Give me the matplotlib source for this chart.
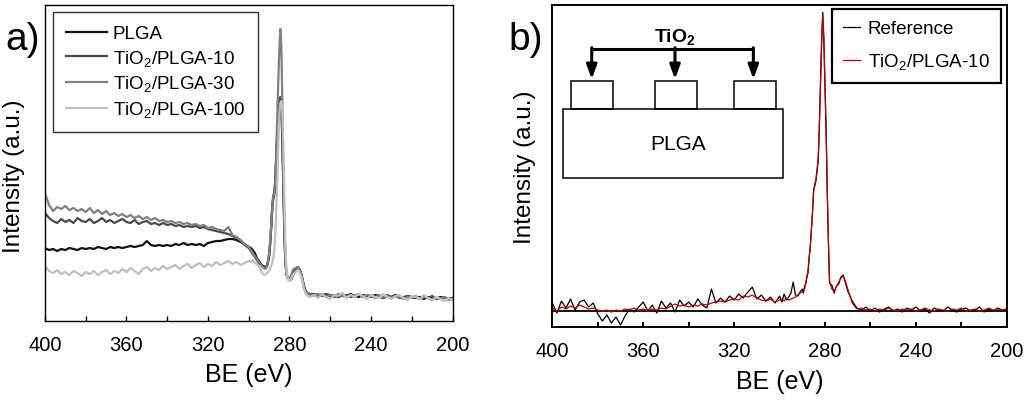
import numpy as np
import matplotlib
matplotlib.use('Agg')
import matplotlib.pyplot as plt
from matplotlib.patches import Rectangle
from matplotlib.ticker import MultipleLocator

plt.rcParams['font.family'] = ['Liberation Sans', 'DejaVu Sans']
plt.rcParams['mathtext.default'] = 'regular'

# binding energy grid the curves were read on (eV), finer around the C1s peak
be = np.concatenate([np.arange(400, 301, -2), np.arange(300, 290, -1),
                     np.arange(290, 277.9, -0.5), np.arange(277, 269.9, -1),
                     np.arange(268, 199.9, -2)])

# ---- panel a) intensities (a.u.)
plga = [73, 71, 72, 70, 72, 71, 73, 72, 71, 73, 72, 73, 72, 74, 73, 72, 74, 73, 74, 73,
        74, 75, 74, 75, 76, 80, 76, 75, 76, 75, 76, 75, 77, 76, 78, 76, 77, 76, 77, 75,
        78, 79, 80, 80, 81, 82, 82, 81, 79, 77,
        74, 73, 71, 68, 63, 60, 57, 55, 54, 55,
        64, 76, 92, 110, 122, 126, 135, 160, 185, 205, 218, 222, 215, 180, 130, 85, 58, 47, 44, 42,
        42, 41, 42, 45, 47,
        50, 52, 51, 45, 35, 29, 27, 26,
        26, 25, 27, 26, 25, 26, 24, 26, 25, 27, 25, 24, 26, 25, 24, 26, 25, 23, 25, 24,
        26, 24, 23, 25, 24, 23, 24, 22, 24, 23, 22, 24, 23, 22, 23]
tio2_10 = [108, 103, 100, 98, 102, 99, 101, 98, 103, 100, 99, 102, 98, 100, 103, 99, 101, 98, 100, 102,
           99, 98, 101, 97, 99, 100, 97, 98, 96, 98, 96, 97, 95, 96, 94, 95, 94, 95, 93, 94,
           92, 91, 90, 89, 88, 87, 85, 83, 80, 76,
           73, 70, 67, 64, 61, 58, 56, 54, 53, 55,
           66, 78, 95, 114, 125, 128, 140, 165, 190, 210, 220, 224, 218, 185, 135, 90, 60, 48, 44, 43,
           42, 43, 44, 46, 49,
           52, 54, 52, 46, 36, 30, 28, 27,
           27, 26, 25, 27, 26, 24, 26, 25, 26, 24, 25, 27, 24, 25, 26, 24, 25, 23, 26, 24,
           25, 23, 24, 25, 23, 24, 22, 24, 23, 25, 22, 23, 24, 22, 23]
tio2_30 = [128, 116, 110, 114, 112, 115, 111, 113, 110, 112, 109, 113, 108, 111, 107, 110, 106, 108, 105, 107,
           104, 106, 103, 105, 102, 104, 101, 103, 100, 101, 99, 100, 98, 99, 97, 98, 96, 97, 95, 96,
           93, 94, 92, 91, 90, 94, 86, 84, 81, 77,
           74, 71, 68, 65, 62, 59, 56, 54, 52, 54,
           68, 80, 95, 112, 124, 128, 140, 170, 205, 240, 270, 292, 275, 220, 150, 95, 62, 47, 43, 41,
           42, 44, 47, 50, 52,
           53, 54, 51, 44, 34, 29, 27, 26,
           25, 27, 26, 24, 26, 25, 27, 25, 24, 26, 25, 27, 24, 26, 25, 23, 26, 24, 25, 23,
           25, 24, 22, 24, 23, 25, 22, 24, 23, 21, 23, 22, 24, 21, 22]
tio2_100 = [55, 50, 48, 51, 47, 49, 46, 50, 48, 45, 49, 47, 50, 46, 49, 51, 47, 50, 48, 52,
            49, 53, 50, 47, 52, 54, 50, 53, 51, 55, 52, 54, 56, 52, 55, 57, 53, 56, 58, 54,
            57, 55, 59, 56, 58, 60, 57, 59, 56, 58,
            60, 59, 61, 58, 57, 55, 50, 47, 46, 48,
            50, 52, 55, 58, 62, 70, 85, 110, 140, 175, 205, 218, 220, 212, 175, 120, 75, 52, 44, 41,
            40, 41, 43, 45, 47,
            49, 51, 49, 43, 33, 27, 25, 24,
            26, 23, 27, 24, 22, 26, 25, 28, 23, 26, 24, 27, 25, 22, 26, 24, 23, 27, 24, 22,
            25, 26, 23, 21, 25, 24, 22, 26, 23, 21, 24, 22, 20, 23, 21]

# ---- panel b) intensities (a.u.), baseline at 0
reference = [8, -2, 10, 3, 12, 1, 9, 11, 4, 8, -3, -10, -4, -12, -6, -14, -5, 2, -1, 4,
             9, 0, 6, -2, 10, 3, 8, -1, 11, 5, 9, 4, 12, 6, 3, 22, 8, 13, 9, 15,
             11, 17, 13, 19, 24, 12, 16, 10, 14, 8,
             15, 9, 17, 11, 14, 18, 29, 16, 15, 19,
             22, 18, 25, 27, 35, 38, 54, 63, 82, 98, 122, 125, 130, 140, 150, 183, 228, 268, 299, 270,
             222, 178, 118, 68, 28,
             26, 18, 25, 27, 34, 36, 28, 20,
             10, 3, 1, 4, 0, 3, -1, 2, 4, 0, 2, -1, 3, 1, 4, 0, 2, -2, 3, 1,
             0, 4, 1, -1, 2, 3, 0, 1, 4, -1, 2, 0, 3, 1, 2]
tio2_plga10 = [3, 0, 4, 2, 5, 3, 6, 4, 2, 3, 1, 0, 1, -1, 1, 0, 2, 1, 3, 1,
               2, 0, 2, 1, 3, 2, 5, 7, 5, 6, 4, 6, 5, 7, 6, 8, 9, 10, 9, 11,
               12, 11, 15, 14, 16, 13, 11, 10, 12, 9,
               11, 12, 10, 13, 11, 12, 13, 14, 16, 18,
               19, 20, 22, 28, 33, 40, 52, 65, 80, 100, 120, 127, 132, 142, 153, 185, 225, 270, 297, 272,
               225, 180, 120, 70, 30,
               22, 20, 24, 29, 33, 35, 30, 22,
               8, 2, 3, 1, 2, 0, 2, 1, 3, 1, 0, 2, 1, 2, 0, 1, 3, 1, 0, 2,
               1, 0, 2, 1, 3, 0, 1, 2, 0, 1, 3, 1, 2, 1, 2]

series_a = [('PLGA', plga, '#111111'),
            ('TiO$_2$/PLGA-10', tio2_10, '#4a4a4a'),
            ('TiO$_2$/PLGA-30', tio2_30, '#808080'),
            ('TiO$_2$/PLGA-100', tio2_100, '#c0c0c0')]

fig = plt.figure(figsize=(10.24, 4.02), dpi=100)
ax1 = fig.add_axes([0.0439, 0.199, 0.398, 0.786])
ax2 = fig.add_axes([0.5394, 0.1833, 0.4438, 0.8017])

# panel a
for name, vals, col in series_a:
    ax1.plot(be, vals, color=col, lw=1.6, label=name)
ax1.set_ylim(0, 316)

# panel b
ax2.axhline(0, color='k', lw=1.3)
ax2.plot(be, reference, color='k', lw=0.9, label='Reference')
ax2.plot(be, tio2_plga10, color='#c00000', lw=0.9, label='TiO$_2$/PLGA-10')
ax2.set_ylim(-16.3, 306.3)

for ax, lw in ((ax1, 1.0), (ax2, 1.4)):
    ax.set_xlim(400, 200)
    ax.xaxis.set_major_locator(MultipleLocator(40))
    ax.xaxis.set_minor_locator(MultipleLocator(20))
    ax.tick_params(axis='x', which='both', direction='in', length=3.5, width=lw,
                   labelsize=14.5, pad=10, top=False)
    ax.set_yticks([])
    for sp in ax.spines.values():
        sp.set_linewidth(lw)
    ax.set_xlabel('BE (eV)', fontsize=18, labelpad=6)
    ax.set_ylabel('Intensity (a.u.)', fontsize=17.5)

ax1.yaxis.set_label_coords(-0.05, 0.46)
ax2.yaxis.set_label_coords(-0.036, 0.5)

leg1 = ax1.legend(loc='upper left', bbox_to_anchor=(0.0196, 0.978), borderaxespad=0,
                  fontsize=13.5, handlelength=2.2, handletextpad=0.3, labelspacing=0.3,
                  borderpad=0.7, fancybox=False, edgecolor='#333333', framealpha=1)
leg1.get_frame().set_linewidth(1.0)
leg2 = ax2.legend(loc='upper right', bbox_to_anchor=(0.987, 0.9876), borderaxespad=0,
                  fontsize=13.5, handlelength=0.9, handletextpad=0.4, labelspacing=0.75,
                  borderpad=0.6, fancybox=False, edgecolor='k', framealpha=1)
leg2.get_frame().set_linewidth(1.6)

fig.text(0.005, 0.9, 'a)', fontsize=28, va='center', ha='left')
fig.text(0.497, 0.9, 'b)', fontsize=28, va='center', ha='left')

# inset sketch of TiO2 pads on PLGA
tr = ax2.transAxes
ax2.add_patch(Rectangle((0.0225, 0.462), 0.4855, 0.215, fill=False, lw=1.1, transform=tr))
for x0 in (0.041, 0.225, 0.400):
    ax2.add_patch(Rectangle((x0, 0.677), 0.093, 0.088, fill=False, lw=1.1, transform=tr))
ax2.plot([0.0867, 0.4423], [0.8635, 0.8635], color='k', lw=2.2, transform=tr,
         solid_capstyle='butt')
for xa in (0.0867, 0.2699, 0.4423):
    ax2.annotate('', xy=(xa, 0.77), xytext=(xa, 0.8635 + 0.004), xycoords='axes fraction',
                 arrowprops=dict(arrowstyle='-|>,head_length=0.6,head_width=0.22',
                                 mutation_scale=14, lw=2.2, color='k',
                                 shrinkA=0, shrinkB=0))
ax2.text(0.27, 0.905, 'TiO$_2$', transform=tr, fontsize=14, fontweight='bold',
         ha='center', va='center')
ax2.text(0.277, 0.569, 'PLGA', transform=tr, fontsize=15, ha='center', va='center')

fig.savefig('out.png', dpi=100)
